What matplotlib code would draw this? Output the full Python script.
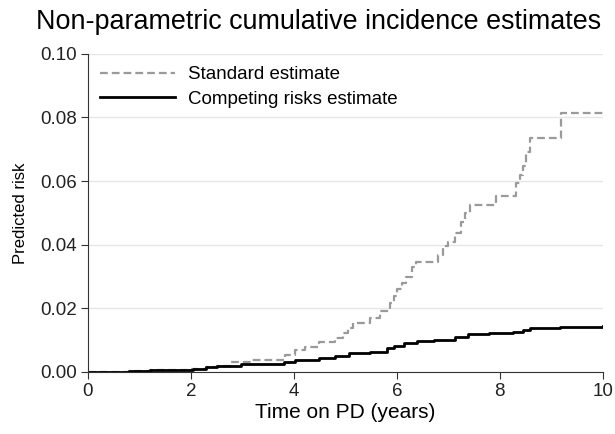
import numpy as np
import matplotlib
matplotlib.use("Agg")
import matplotlib.pyplot as plt

plt.rcParams['font.family'] = ['Liberation Sans', 'DejaVu Sans']

# standard (1 - KM) estimate
std_time = [0.0, 0.2, 0.8, 1.2, 1.6, 2.0, 2.3, 2.5, 2.77, 3.17, 3.83, 4.03, 4.22,
            4.49, 4.8, 4.95, 5.05, 5.15, 5.48, 5.68, 5.87, 5.95, 6.0, 6.1, 6.17,
            6.3, 6.37, 6.8, 6.9, 7.0, 7.13, 7.25, 7.33, 7.43, 7.92, 8.32, 8.4,
            8.45, 8.51, 8.58, 9.19, 10.0]
std_risk = [0.0, 0.0, 0.0002, 0.0005, 0.0007, 0.001, 0.0015, 0.002, 0.003, 0.0037,
            0.0053, 0.0068, 0.0079, 0.0095, 0.0108, 0.0121, 0.0138, 0.0153, 0.0168,
            0.019, 0.0216, 0.024, 0.026, 0.028, 0.030, 0.033, 0.0347, 0.0368,
            0.0395, 0.041, 0.0437, 0.047, 0.050, 0.0524, 0.0553, 0.0595, 0.062,
            0.0647, 0.069, 0.0735, 0.0814, 0.0814]

# competing risks estimate
cr_time = [0.0, 0.2, 0.8, 1.2, 1.6, 2.05, 2.3, 2.5, 2.97, 3.63, 3.8, 4.03, 4.49,
           4.8, 5.08, 5.48, 5.8, 5.95, 6.14, 6.4, 6.73, 7.13, 7.39, 7.79, 8.25,
           8.45, 8.58, 9.17, 10.0]
cr_risk = [0.0, 0.0, 0.0002, 0.0005, 0.0007, 0.001, 0.0014, 0.0018, 0.0024,
           0.0026, 0.0031, 0.0037, 0.0045, 0.0051, 0.0058, 0.0063, 0.0074,
           0.0082, 0.009, 0.0097, 0.010, 0.011, 0.0119, 0.0121, 0.0125, 0.0131,
           0.0137, 0.014, 0.0143]

fig = plt.figure(figsize=(6.15, 4.34), dpi=100)
ax = fig.add_axes([0.143, 0.143, 0.837, 0.733])

ax.plot(std_time, std_risk, drawstyle='steps-post', color='#9a9a9a',
        lw=1.6, ls=(0, (3.5, 1.8)), label='Standard estimate')
ax.plot(cr_time, cr_risk, drawstyle='steps-post', color='black',
        lw=2.0, label='Competing risks estimate')

ax.set_xlim(0, 10)
ax.set_ylim(0, 0.10)
ax.set_xticks([0, 2, 4, 6, 8, 10])
ax.set_yticks([0, 0.02, 0.04, 0.06, 0.08, 0.10])
ax.set_yticklabels(['0.00', '0.02', '0.04', '0.06', '0.08', '0.10'])
ax.yaxis.grid(True, color='#e6e6e6', lw=1)
ax.set_axisbelow(True)

for s in ['top', 'right']:
    ax.spines[s].set_visible(False)
for s in ['left', 'bottom']:
    ax.spines[s].set_color('#333333')
ax.tick_params(direction='out', length=5, labelsize=13.5, colors='#333333',
               labelcolor='#222222', pad=3)

ax.set_xlabel('Time on PD (years)', fontsize=15, labelpad=2)
ax.set_ylabel('Predicted risk', fontsize=12, labelpad=9)
fig.text(0.518, 1 - 22 / 434, 'Non-parametric cumulative incidence estimates',
         fontsize=19.4, ha='center', va='center')

ax.legend(loc='upper left', frameon=False, fontsize=13.5, handlelength=4.0,
          handletextpad=0.7, borderaxespad=0.25, labelspacing=0.4,
          borderpad=0.4)

plt.savefig('out.png', dpi=100)
plt.close()
